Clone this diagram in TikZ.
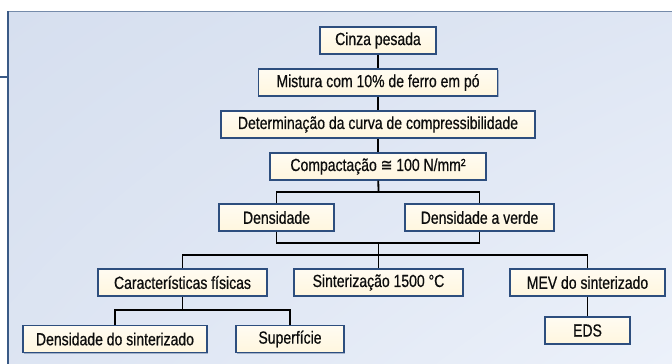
\documentclass[tikz,border=0pt]{standalone}
\usepackage{amsmath}
\usepackage{fontspec}
\setmainfont[FakeStretch=0.8, FakeBold=0.6]{Liberation Sans}
\newfontfamily\symfont[FakeStretch=0.8, FakeBold=0.6]{DejaVu Sans}
\usepackage{tikz}
\usetikzlibrary{positioning, shadows, shadings}

\definecolor{panelblue}{HTML}{D6DFEF}
\definecolor{panellight}{HTML}{ECF1FA}
\definecolor{panelline}{HTML}{3A5A86}
\definecolor{boxline}{HTML}{2D4E7E}
\definecolor{boxfill}{HTML}{FFF6DE}

\begin{document}
\begin{tikzpicture}[x=1pt, y=-1pt, node distance=42pt, on grid, font=\fontsize{17.5}{20}\selectfont]
        \tikzset{link/.style={line width=1.8pt, black}}
        % Define attributes for the boxes
        \tikzstyle{stepbox}=[draw=boxline, line width=1.4pt, top color=boxfill!40!white, bottom color=boxfill,
            minimum height=27pt, inner sep=0pt, text=black!95,
            drop shadow={shadow xshift=1.2pt, shadow yshift=-1.2pt, opacity=0.35, fill=boxline}]

        \useasboundingbox (0,0) rectangle (672,364);
        \shade[upper left=panelblue, upper right=panelblue!60!panellight, lower left=panelblue!70!panellight, lower right=panellight] (8,11) rectangle (672,364);
        \draw[panelline!70!white, line width=1pt] (8,11) -- (672,11);
        \draw[panelline, line width=1.6pt] (8,11) -- (8,364);
        \draw[panelline, line width=1.6pt] (0,77) -- (8,77);

        \node[stepbox, minimum width=116pt] (cinza) at (378,40.5) {Cinza pesada};
        \node[stepbox, minimum width=239pt] (mistura) [below=of cinza] {Mistura com 10\% de ferro em pó};
        \node[stepbox, minimum width=314pt] (curva) [below=of mistura] {Determinação da curva de compressibilidade};
        \node[stepbox, minimum width=216pt] (compact) [below=of curva] {Compactação {\symfont ≅} 100 N/mm²};

        \node[stepbox, minimum width=115pt] (dens) at (276.5,217.5) {Densidade};
        \node[stepbox, minimum width=149pt] (densverde) at (479.5,217.5) {Densidade a verde};

        \node[stepbox, minimum width=169pt] (caract) at (182.5,282.5) {Características físicas};
        \node[stepbox, minimum width=169pt] (sinter) at (378.5,282.5) {Sinterização 1500 °C};
        \node[stepbox, minimum width=155pt] (mev) at (587.5,282.5) {MEV do sinterizado};

        \node[stepbox, minimum width=184pt] (denssint) at (115,339) {Densidade do sinterizado};
        \node[stepbox, minimum width=108pt] (superf) at (290,339) {Superfície};
        \node[stepbox, minimum width=85pt] (eds) at (587.5,330.5) {EDS};

        \coordinate (split) at (378.5,192);
        \coordinate (merge) at (378.5,243);
        \coordinate (fork) at (378.5,255);
        \coordinate (fork2) at (182.5,310);

        \path[link]
        (cinza) edge (mistura)
        (mistura) edge (curva)
        (curva) edge (compact)
        (compact) edge (split)
        (merge) edge (sinter)
        (caract) edge (fork2)
        (mev) edge (eds);
        \draw[link] (dens.north) |- (split) -| (densverde.north);
        \draw[link] (dens.south) |- (merge) -| (densverde.south);
        \draw[link] (caract.north) |- (fork) -| (mev.north);
        \draw[link] (denssint.north) |- (fork2) -| (superf.north);
    \end{tikzpicture}
\end{document}
